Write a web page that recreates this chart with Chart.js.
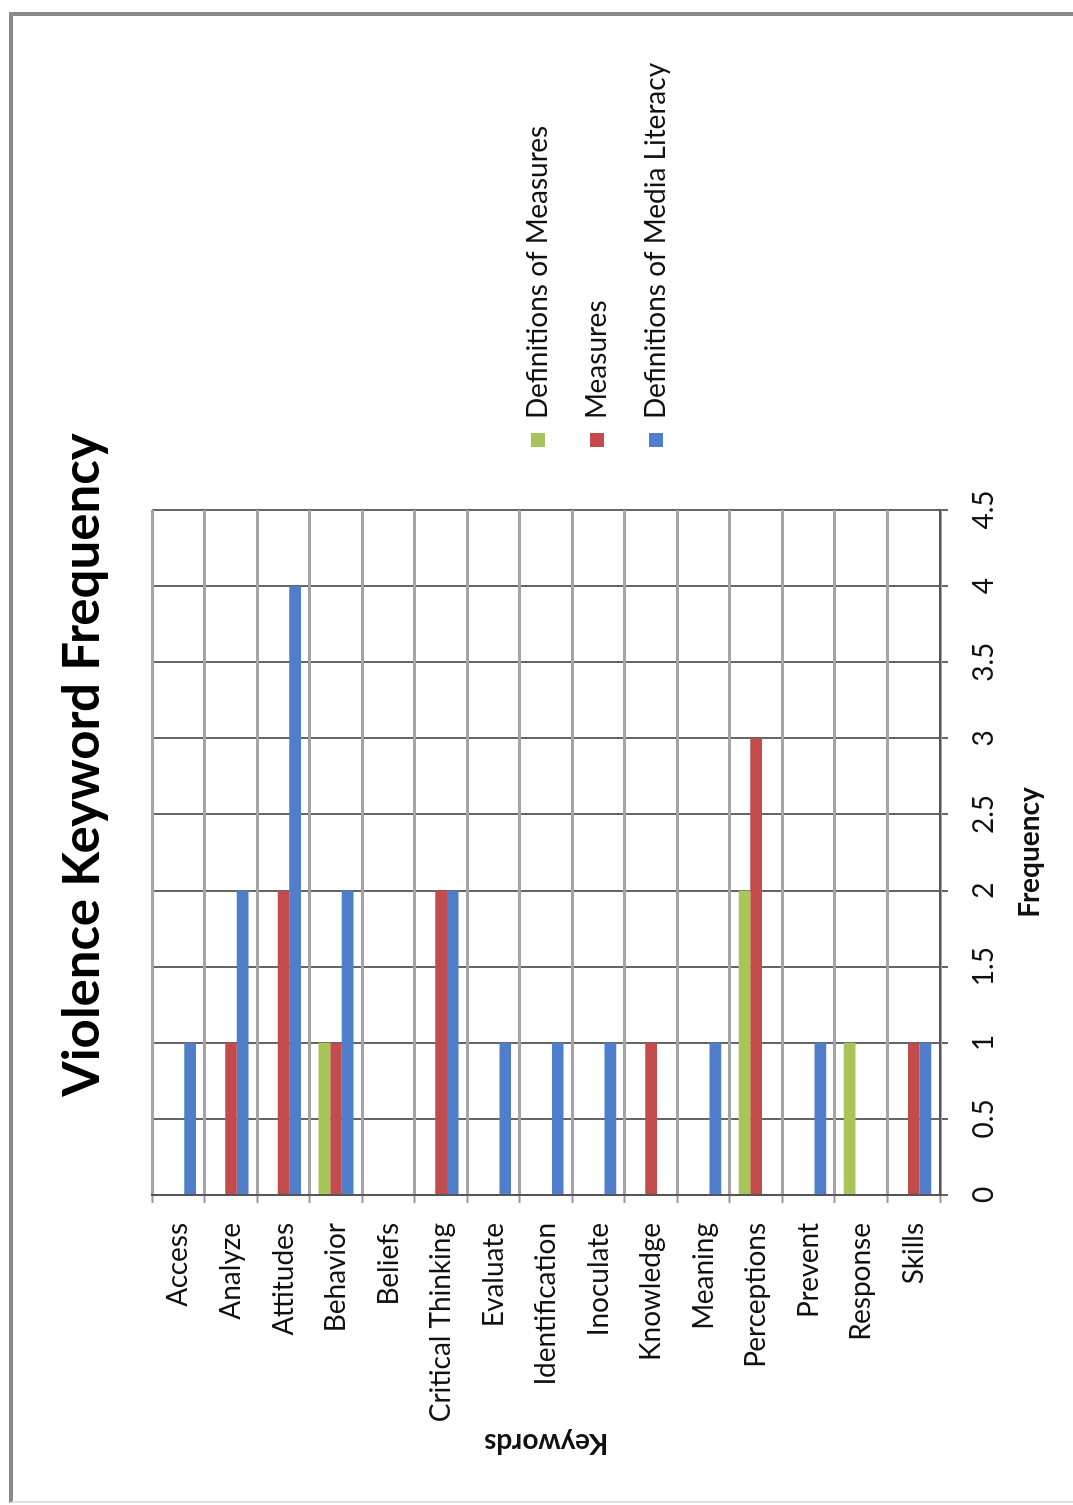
<!DOCTYPE html>
<html><head><meta charset="utf-8">
<script src="https://cdn.jsdelivr.net/npm/chart.js@4.4.1/dist/chart.umd.min.js"></script>
<style>
html,body{margin:0;padding:0;background:#fff;width:1073px;height:1505px;overflow:hidden;}
#frame{position:absolute;left:9px;top:12px;width:1100px;height:1485px;border-left:4px solid #8a8a8a;border-top:4px solid #8a8a8a;border-bottom:2px solid #e2e2e2;}
#rot{position:absolute;left:0;top:0;width:1505px;height:1073px;transform-origin:0 0;transform:translate(0px,1505px) rotate(-90deg);}
canvas{display:block;}
</style></head><body>
<div id="frame"></div>
<div id="rot"><canvas id="c" width="1505" height="1073"></canvas></div>
<script>
const categories = ['Access','Analyze','Attitudes','Behavior','Beliefs','Critical Thinking','Evaluate','Identification','Inoculate','Knowledge','Meaning','Perceptions','Prevent','Response','Skills'];
const seriesNames = ['Definitions of Measures','Measures','Definitions of Media Literacy'];
const definitionsOfMeasures = [0,0,0,1,0,0,0,0,0,0,0,2,0,1,0];
const measures = [0,1,2,1,0,2,0,0,0,1,0,3,0,0,1];
const definitionsOfMediaLiteracy = [1,2,4,2,0,2,1,1,1,0,1,0,1,0,1];
const frequencyTicks = [0,0.5,1,1.5,2,2.5,3,3.5,4,4.5];
const frequencyTickLabels = ['0','0.5','1','1.5','2','2.5','3','3.5','4','4.5'];
const chartTitle = 'Violence Keyword Frequency';
const xTitle = 'Frequency';
const yTitle = 'Keywords';

Chart.defaults.font.family = 'Lato';
Chart.defaults.color = '#111';

const legendPlace = {
  id: 'legendPlace',
  afterLayout(chart) {
    const L = chart.legend;
    if (!L) return;
    const w = L.width;
    L.left = 1027; L.right = L.left + w;
    L.top = 493; L.bottom = L.top + 320;
  }
};

new Chart(document.getElementById('c'), {
  type: 'bar',
  data: {
    labels: categories,
    datasets: [
      { label: seriesNames[0], data: definitionsOfMeasures, backgroundColor: '#a8c55a' },
      { label: seriesNames[1], data: measures, backgroundColor: '#c34b4b' },
      { label: seriesNames[2], data: definitionsOfMediaLiteracy, backgroundColor: '#4f7ecb' }
    ]
  },
  options: {
    indexAxis: 'y',
    responsive: false,
    animation: false,
    layout: { padding: { left: 0, right: 25, top: 0, bottom: 0 } },
    datasets: { bar: { categoryPercentage: 0.667, barPercentage: 1.0, borderWidth: 0 } },
    scales: {
      x: {
        type: 'linear', position: 'bottom', min: 0, max: 4.5,
        afterBuildTicks: (s) => { s.ticks = frequencyTicks.map(v => ({ value: v })); },
        afterFit: (s) => { s.height = 133; },
        ticks: { font: { size: 28 }, color: '#111', padding: 19,
          callback: (v, i) => frequencyTickLabels[i] },
        grid: { color: '#666', lineWidth: 2, tickLength: 8, tickColor: '#666', tickWidth: 2 },
        border: { color: '#555', width: 2 },
        title: { display: true, text: xTitle, font: { size: 28, weight: 'bold' }, color: '#111', padding: { top: 12, bottom: 26 } }
      },
      y: {
        type: 'category', position: 'left',
        afterFit: (s) => { s.width = 310; },
        ticks: { font: { size: 28 }, color: '#111', padding: 20, autoSkip: false },
        grid: { color: '#a4a4a4', lineWidth: 3, offset: true, tickLength: 8, tickColor: '#999', tickWidth: 2 },
        border: { color: '#555', width: 2 },
        title: { display: true, text: yTitle, font: { size: 28, weight: 'bold' }, color: '#111', padding: { top: 45, bottom: 10 } }
      },
      gap: {
        type: 'linear', position: 'right', display: true,
        afterFit: (s) => { s.width = 485; },
        ticks: { display: false },
        grid: { display: false, drawTicks: false },
        border: { display: false }
      }
    },
    plugins: {
      title: {
        display: true, text: chartTitle, color: '#000',
        font: { size: 51, weight: 'bold' },
        padding: { top: 52, bottom: 39 }
      },
      legend: {
        position: 'chartArea', align: 'start',
        labels: { font: { size: 28 }, color: '#111', boxWidth: 14, boxHeight: 14, padding: 31 }
      },
      tooltip: { enabled: false }
    }
  },
  plugins: [legendPlace]
});
</script>
</body></html>
